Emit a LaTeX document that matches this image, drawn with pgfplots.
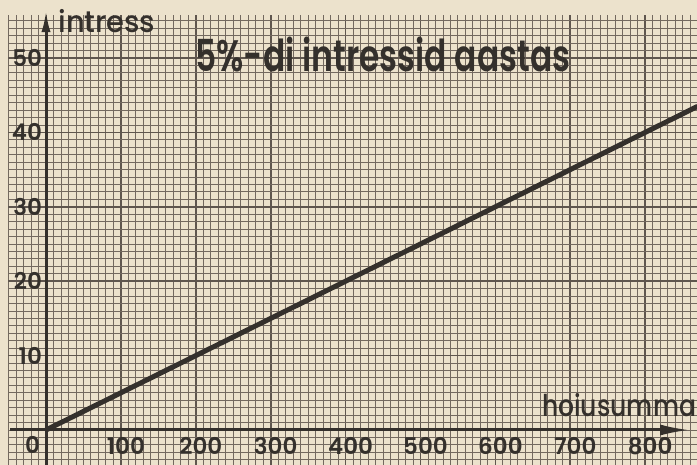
\documentclass[border=0pt]{standalone}
\usepackage{fontspec}
\setmainfont{Poppins}[UprightFont=* Medium, BoldFont=* SemiBold]
\usepackage{graphicx}
\usepackage{pgfplots}
\pgfplotsset{compat=1.18}
\usetikzlibrary{arrows.meta}
\definecolor{paper}{RGB}{236,226,204}
\definecolor{gridc}{RGB}{115,105,95}
\definecolor{majc}{RGB}{95,86,78}
\definecolor{ink}{RGB}{52,48,44}
\begin{document}
\begin{tikzpicture}
\path[use as bounding box, fill=paper] (0,0) rectangle (348.5pt,232.5pt);
\begin{axis}[
  anchor=origin, at={(23pt,17.5pt)},
  x=0.3745pt, y=3.72pt,
  xmin=-50.7, xmax=869.2, ymin=-4.7, ymax=55.8,
  axis lines=middle, axis line style={draw=none},
  clip=false,
  major tick length=0pt, minor tick length=0pt,
  xtick={0,100,...,800},
  xticklabels={{},100,200,300,400,500,600,700,800},
  ytick={0,10,...,50},
  yticklabels={{},10,20,30,40,50},
  minor xtick={-50,-40,...,860},
  minor ytick={-4,-3,...,55},
  grid=both,
  minor grid style={draw=gridc, line width=0.45pt},
  major grid style={draw=majc, line width=0.85pt},
  /pgf/number format/assume math mode=true,
  xticklabel style={font=\fontsize{11.5}{12}\selectfont\bfseries, text=ink, xshift=2.5pt, fill=none},
  yticklabel style={font=\fontsize{11.5}{12}\selectfont\bfseries, text=ink, xshift=1.5pt, fill=none},
]
\addplot[ink, line width=2.5pt] coordinates {(0,0) (870,43.5)};
\draw[ink, line width=1.5pt, -{Latex[length=11pt, width=4.5pt]}] (axis cs:0,-4.7) -- (axis cs:0,56.45);
\draw[ink, line width=1.5pt, -{Latex[length=15pt, width=5.5pt]}] (axis cs:-48,0) -- (axis cs:860,0);
\node[anchor=base west, font=\fontsize{15}{16}\selectfont, text=ink, inner sep=0pt] at (axis cs:16,53.36) {\resizebox{48.5pt}{\height}{intress}};
\node[anchor=base west, font=\fontsize{15}{16}\selectfont, text=ink, inner sep=0pt] at (axis cs:661.8,1.79) {\resizebox{77pt}{\height}{hoiusumma}};
\node[anchor=base west, font=\fontsize{22}{24}\selectfont\bfseries, text=ink, inner sep=0pt] at (axis cs:198.9,48.16) {\resizebox{187.5pt}{\height}{5\%-di intressid aastas}};
\node[font=\fontsize{11.5}{12}\selectfont\bfseries, text=ink] at (axis cs:-18,-2) {0};
\end{axis}
\end{tikzpicture}
\end{document}
